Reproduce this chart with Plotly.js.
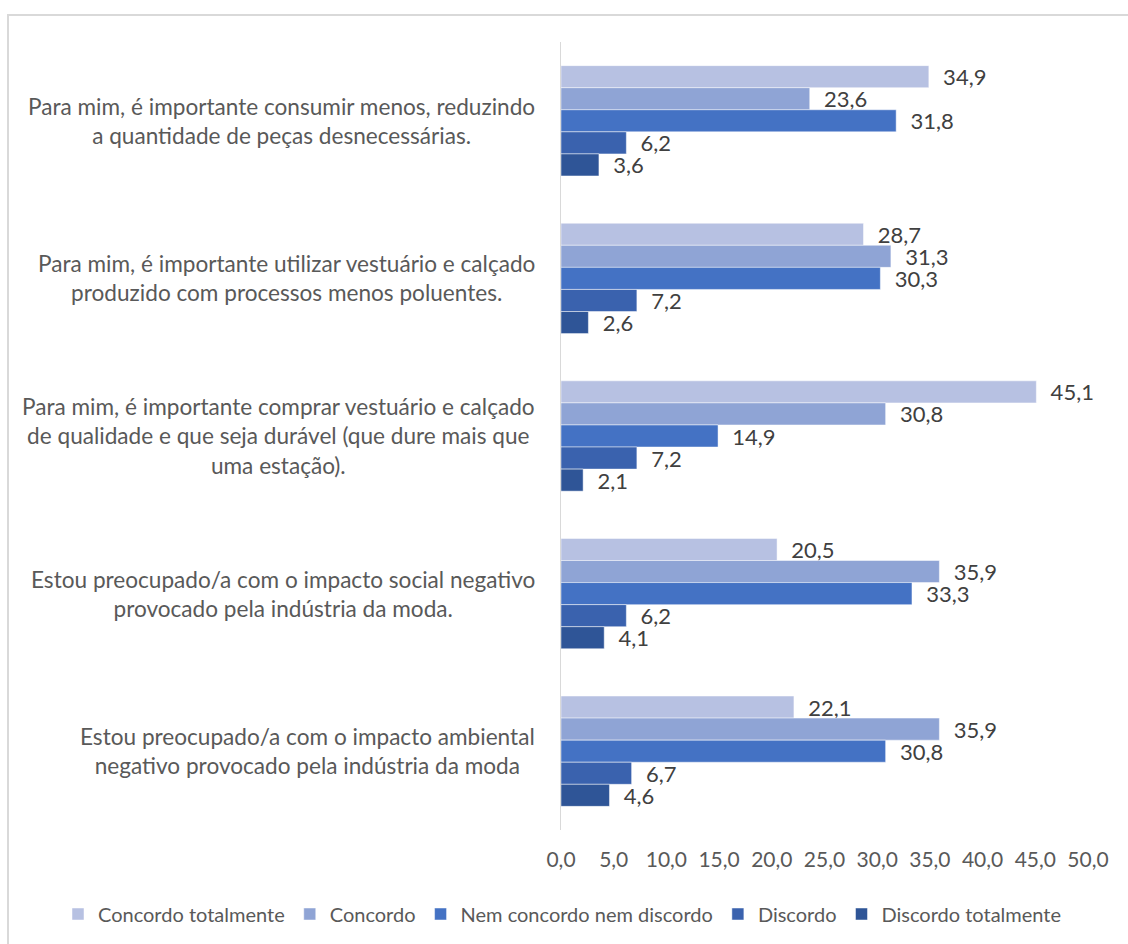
<!DOCTYPE html>
<html>
<head>
<meta charset="utf-8">
<script src="https://cdn.plot.ly/plotly-3.0.1.min.js"></script>
<style>
  html, body { margin: 0; padding: 0; background: #fff; }
  #wrap { position: relative; width: 1128px; height: 944px; overflow: hidden; }
  #frame { position: absolute; left: 7px; top: 14px; width: 1200px; height: 1000px;
           border: 2px solid #d9d9d9; pointer-events: none; box-sizing: border-box; }
  #chart { position: absolute; left: 0; top: 0; width: 1128px; height: 944px; }
</style>
</head>
<body>
<div id="wrap">
  <div id="frame"></div>
  <div id="chart"></div>
</div>
<script>
const categories = [
  "Para mim, é importante consumir menos, reduzindo<br>a quantidade de peças desnecessárias.",
  "Para mim, é importante utilizar vestuário e calçado<br>produzido com processos menos poluentes.",
  "Para mim, é importante comprar vestuário e calçado<br>de qualidade e que seja durável (que dure mais que<br>uma estação).",
  "Estou preocupado/a com o impacto social negativo<br>provocado pela indústria da moda.",
  "Estou preocupado/a com o impacto ambiental<br>negativo provocado pela indústria da moda"
];
const seriesNames = ["Concordo totalmente", "Concordo", "Nem concordo nem discordo", "Discordo", "Discordo totalmente"];
const concordoTotalmente = [34.9, 28.7, 45.1, 20.5, 22.1];
const concordo = [23.6, 31.3, 30.8, 35.9, 35.9];
const nemConcordoNemDiscordo = [31.8, 30.3, 14.9, 33.3, 30.8];
const discordo = [6.2, 7.2, 7.2, 6.2, 6.7];
const discordoTotalmente = [3.6, 2.6, 2.1, 4.1, 4.6];
const seriesValues = [concordoTotalmente, concordo, nemConcordoNemDiscordo, discordo, discordoTotalmente];
const colors = ["#b7c1e2", "#8fa4d5", "#4472c4", "#3a62ae", "#2f5597"];
const xTicks = [0, 5, 10, 15, 20, 25, 30, 35, 40, 45, 50];

const FONT = "Lato, 'Open Sans', sans-serif";
const TXT = "#595959";

const traces = seriesNames.map((name, i) => ({
  type: "bar",
  orientation: "h",
  name: name,
  y: categories,
  x: seriesValues[i],
  marker: { color: colors[i], line: { color: "rgba(255,255,255,0.6)", width: 0.8 } },
  texttemplate: "  %{x:.1f}",
  textposition: "outside",
  constraintext: "none",
  cliponaxis: false,
  textfont: { family: FONT, size: 22, color: "#404040" },
  hoverinfo: "x+name"
}));

const annotations = categories.map(c => ({
  xref: "paper", yref: "y",
  x: -24 / 527, y: c,
  xanchor: "right", yanchor: "middle",
  align: "center",
  text: c,
  showarrow: false,
  font: { family: FONT, size: 22.6, color: TXT }
}));

const layout = {
  width: 1128, height: 944,
  paper_bgcolor: "rgba(0,0,0,0)",
  plot_bgcolor: "rgba(0,0,0,0)",
  margin: { l: 561, r: 40, t: 42, b: 114, autoexpand: false },
  separators: ",.",
  barmode: "group",
  bargap: 0.30,
  bargroupgap: 0,
  font: { family: FONT, size: 20, color: TXT },
  xaxis: {
    range: [0, 50],
    tickvals: xTicks,
    tickformat: ".1f",
    showgrid: false,
    zeroline: false,
    showline: false,
    ticks: "",
    ticklabelstandoff: 15,
    tickfont: { family: FONT, size: 21, color: TXT }
  },
  yaxis: {
    autorange: "reversed",
    showticklabels: false,
    showgrid: false,
    zeroline: false,
    showline: true,
    linecolor: "#d9d9d9",
    linewidth: 1.5,
    ticks: ""
  },
  showlegend: true,
  legend: {
    orientation: "h",
    xref: "paper", yref: "paper",
    x: (58 - 561) / 527, xanchor: "left",
    y: -84 / 788, yanchor: "middle",
    traceorder: "normal",
    itemwidth: 30,
    font: { family: FONT, size: 20, color: TXT },
    bgcolor: "rgba(0,0,0,0)"
  },
  annotations: annotations
};

Plotly.newPlot("chart", traces, layout, { displayModeBar: false, staticPlot: true });
</script>
</body>
</html>
